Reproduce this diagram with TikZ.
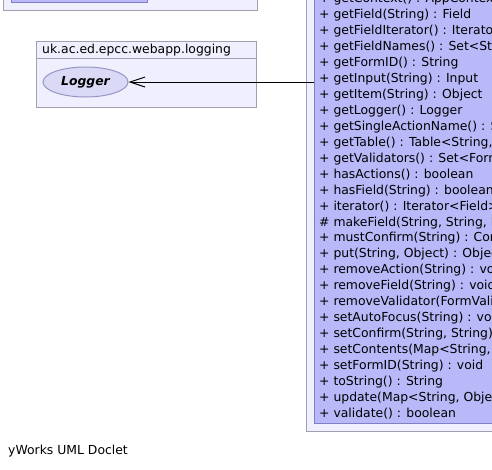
\documentclass[tikz,border=0pt]{standalone}
\usepackage{fontspec}
\setmainfont{DejaVu Sans}
\usetikzlibrary{arrows.meta,positioning,shapes.geometric}
\definecolor{pkgfill}{RGB}{239,239,254}
\definecolor{pkgline}{RGB}{160,160,178}
\definecolor{clsfill}{RGB}{185,185,250}
\definecolor{clsline}{RGB}{128,128,196}
\definecolor{ovalfill}{RGB}{218,218,246}
\definecolor{ovalline}{RGB}{150,150,196}
\tikzset{
  pkg/.style={draw=pkgline,fill=pkgfill,line width=1pt,inner sep=0pt},
  cls/.style={draw=clsline,fill=clsfill,line width=1pt,inner sep=0pt},
  oval/.style={ellipse,draw=ovalline,fill=ovalfill,line width=1pt,inner sep=0pt,
    minimum width=85pt,minimum height=30pt,font=\fontsize{12.4}{14}\selectfont\bfseries\itshape},
  member/.style={anchor=base west,inner sep=0pt,font=\fontsize{12.4}{16}\selectfont},
  label/.style={anchor=base west,inner sep=0pt,font=\fontsize{12.4}{16}\selectfont},
  assoc/.style={-{Straight Barb[length=15pt,width=10pt]},line width=1pt},
}
\begin{document}
\begin{tikzpicture}[x=1pt,y=-1pt]
  \useasboundingbox (0,0) rectangle (492,469);
  \clip (0,0) rectangle (492,469);
  % top left package (cut off)
  \node[pkg,anchor=south west,minimum width=254pt,minimum height=60pt] (toppkg) at (2.5,10.5) {};
  \node[cls,anchor=south west,minimum width=136.5pt,minimum height=40pt] (topcls) at (10.5,2.5) {};
  % logging package
  \node[pkg,anchor=north west,minimum width=220pt,minimum height=66pt] (logpkg) at (35.5,40.5) {};
  \draw[pkgline,line width=1pt] (35.5,58.5) coordinate (loghead) -- (loghead -| logpkg.east);
  \node[label] (logname) at (42,53.5) {uk.ac.ed.epcc.webapp.logging};
  \node[oval] (logger) at (85.5,82) {Logger};
  % form package and class
  \node[pkg,anchor=south west,minimum width=300pt,minimum height=480pt] (formpkg) at (305.5,431.5) {};
  \node[cls,anchor=south west,minimum width=300pt,minimum height=470pt] (formcls) at (313.5,423.5) {};
  \foreach \m [count=\i from 0] in {%
    {+ getContext() : AppContext},
    {+ getField(String) : Field},
    {+ getFieldIterator() : Iterator},
    {+ getFieldNames() : Set<St},
    {+ getFormID() : String},
    {+ getInput(String) : Input},
    {+ getItem(String) : Object},
    {+ getLogger() : Logger},
    {+ getSingleActionName() : S},
    {+ getTable() : Table<String,},
    {+ getValidators() : Set<Form},
    {+ hasActions() : boolean},
    {+ hasField(String) : boolean},
    {+ iterator() : Iterator<Field>},
    {\# makeField(String, String, I},
    {+ mustConfirm(String) : Con},
    {+ put(String, Object) : Object},
    {+ removeAction(String) : void},
    {+ removeField(String) : void},
    {+ removeValidator(FormVali},
    {+ setAutoFocus(String) : vo},
    {+ setConfirm(String, String)},
    {+ setContents(Map<String,},
    {+ setFormID(String) : void},
    {+ toString() : String},
    {+ update(Map<String, Obje},
    {+ validate() : boolean}}
    \node[member] (m\i) at (319,2.7+15.95*\i) {\m};
  \draw[assoc] (logger.east -| formcls.west) -- (logger.east);
  \node[label] (footer) at (8,454.3) {yWorks UML Doclet};
\end{tikzpicture}
\end{document}
